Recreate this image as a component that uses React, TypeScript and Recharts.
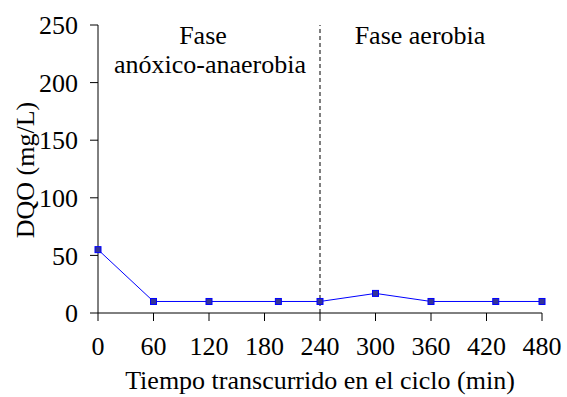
import { LineChart, Line, XAxis, YAxis, ReferenceLine, Customized } from "recharts";

const minutes = [0, 60, 120, 195, 240, 300, 360, 430, 480];
const dqo = [55, 10, 10, 10, 10, 17, 10, 10, 10];
const xTicks = [0, 60, 120, 180, 240, 300, 360, 420, 480];
const yTicks = [0, 50, 100, 150, 200, 250];

const data = minutes.map((t, i) => ({ t, dqo: dqo[i] }));

const FONT = "Liberation Serif";

function SquareDot(props: any) {
  const { cx, cy } = props;
  if (cx == null || cy == null) return null;
  return (
    <rect
      x={cx - 3}
      y={cy - 3}
      width={6}
      height={6}
      fill="#333399"
      stroke="#0000ff"
      strokeWidth={1}
    />
  );
}

function Annotations() {
  return (
    <g style={{ fontFamily: FONT, fontSize: 26 }} fill="#000">
      <text x={203} y={44} textAnchor="middle">Fase</text>
      <text x={210} y={73} textAnchor="middle">anóxico-anaerobia</text>
      <text x={420} y={44} textAnchor="middle">Fase aerobia</text>
      <text transform="translate(34,170) rotate(-90)" textAnchor="middle">
        DQO (mg/L)
      </text>
      <text x={320} y={389} textAnchor="middle">
        Tiempo transcurrido en el ciclo (min)
      </text>
    </g>
  );
}

export default function App() {
  const tickStyle = { fontSize: 26, fill: "#000", style: { fontFamily: FONT } };
  return (
    <div
      style={{
        position: "absolute",
        left: 0,
        top: 0,
        background: "#fff",
        fontFamily: FONT,
      }}
    >
      <LineChart
        width={567}
        height={397}
        data={data}
        margin={{ top: 25, right: 25, left: 0, bottom: 0 }}
        style={{ fontFamily: FONT }}
      >
        <XAxis
          dataKey="t"
          type="number"
          domain={[0, 480]}
          ticks={xTicks}
          height={84}
          tickSize={8}
          tickMargin={16}
          tick={tickStyle}
          stroke="#000"
          interval={0}
        />
        <YAxis
          type="number"
          domain={[0, 250]}
          ticks={yTicks}
          width={98}
          tickSize={8}
          tickMargin={12}
          tick={tickStyle}
          stroke="#000"
          interval={0}
        />
        <ReferenceLine
          x={240}
          stroke="#555"
          strokeWidth={1.5}
          strokeDasharray="4 3"
        />
        <Line
          type="linear"
          dataKey="dqo"
          stroke="#0000ff"
          strokeWidth={1}
          dot={<SquareDot />}
          activeDot={false}
          isAnimationActive={false}
        />
        <Customized component={Annotations} />
      </LineChart>
    </div>
  );
}
